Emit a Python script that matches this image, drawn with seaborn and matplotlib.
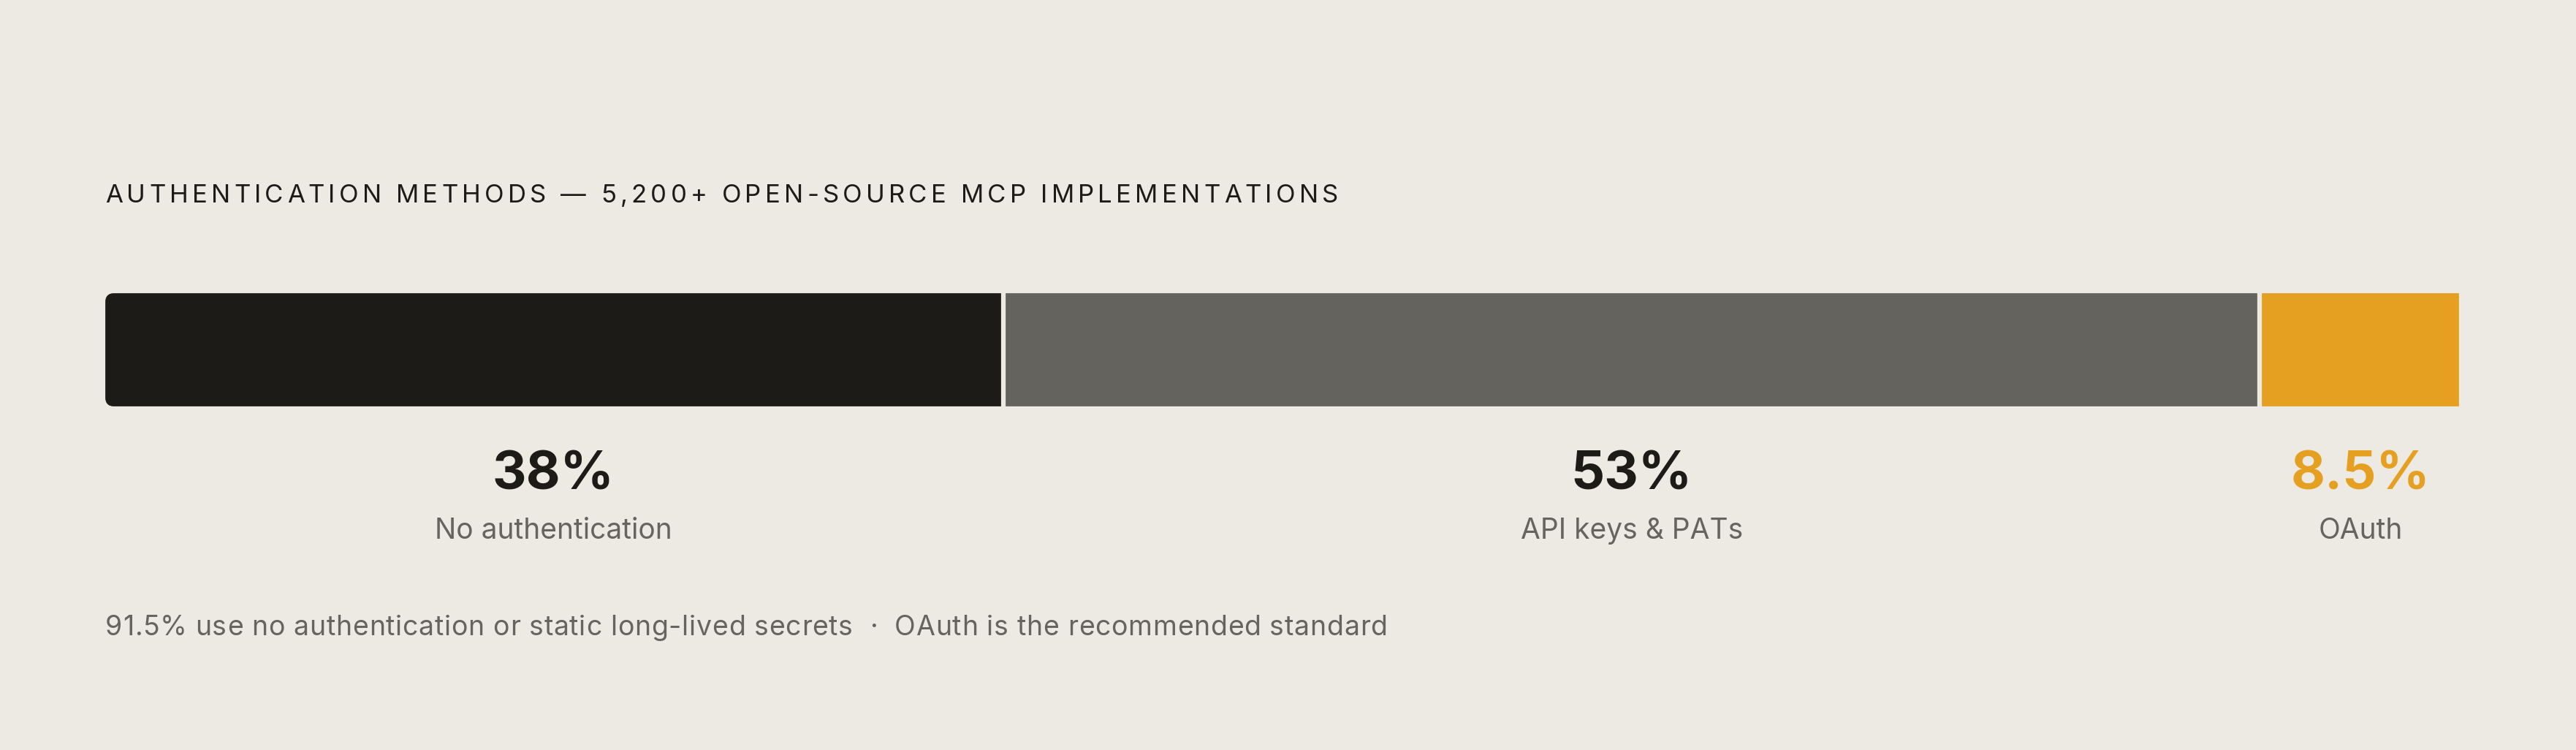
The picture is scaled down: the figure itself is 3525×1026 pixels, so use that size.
import matplotlib
matplotlib.use("Agg")
import matplotlib.pyplot as plt
import matplotlib.transforms as mtransforms
from matplotlib.patches import FancyBboxPatch
import numpy as np
import pandas as pd
import seaborn as sns

# data
categories = ["No authentication", "API keys & PATs", "OAuth"]
shares = [38, 53, 8.5]
pct_labels = ["38%", "53%", "8.5%"]
title_text = "AUTHENTICATION METHODS \u2014 5,200+ OPEN-SOURCE MCP IMPLEMENTATIONS"
note_text = "91.5% use no authentication or static long-lived secrets  \u00b7  OAuth is the recommended standard"

BG = "#edeae3"
INK = "#1c1b18"
MUTED = "#66645f"
seg_colors = ["#1c1b18", "#64635e", "#e6a021"]
pct_colors = [INK, INK, "#e6a021"]

sns.set_theme(style="white")
plt.rcParams["font.family"] = ["Inter", "DejaVu Sans"]

W, H = 3525, 1026
fig = plt.figure(figsize=(W / 100, H / 100), dpi=100, facecolor=BG)
renderer = fig.canvas.get_renderer()

def fx(px):
    return px / W

def fy(px):
    return 1 - px / H

def spaced_text(x, y, s, size, color, tracking):
    # draw text char by char with extra letter spacing (px)
    def width(txt):
        t = fig.text(0, 0, txt, fontsize=size)
        w = t.get_window_extent(renderer=renderer).width
        t.remove()
        return w
    space_w = width("a a") - width("aa")
    for ch in s:
        if ch == " ":
            x += space_w + tracking
            continue
        t = fig.text(fx(x), fy(y), ch, ha="left", va="baseline", fontsize=size, color=color)
        x += t.get_window_extent(renderer=renderer).width + tracking

bar_left, bar_right, bar_top, bar_bot = 144, 3365, 401, 556
pad = 3
ax = fig.add_axes([fx(bar_left - pad), fy(bar_bot + pad),
                   fx(bar_right - bar_left + 2 * pad), (bar_bot - bar_top + 2 * pad) / H])
ax.set_facecolor(BG)

cum = np.cumsum(shares)
df = pd.DataFrame({"row": ["auth"] * len(shares), "end": cum, "segment": categories})

# stacked bar: draw cumulative ends from longest to shortest
for i in reversed(range(len(shares))):
    sns.barplot(data=df.iloc[[i]], x="end", y="row", orient="h", color=seg_colors[i],
                width=1.0, edgecolor=BG, linewidth=4.5, saturation=1, ax=ax)

ax.set_xlim(0, cum[-1])
ax.set_ylim(0.5, -0.5)
ax.axis("off")

# rounded left corners
clip = FancyBboxPatch((bar_left, H - bar_bot), (bar_right - bar_left) + 80, bar_bot - bar_top,
                      boxstyle="round,pad=0,rounding_size=13",
                      transform=mtransforms.IdentityTransform(), facecolor="none", edgecolor="none")
for p in ax.patches:
    p.set_clip_path(clip)

# labels under each segment
trans = mtransforms.blended_transform_factory(ax.transData, fig.transFigure)
centers = cum - np.array(shares) / 2
for c, pct, name, col in zip(centers, pct_labels, categories, pct_colors):
    fig.text(c, fy(670), pct, transform=trans, ha="center", va="baseline",
             fontsize=52, fontweight="bold", color=col)
    fig.text(c, fy(737), name, transform=trans, ha="center", va="baseline",
             fontsize=28, color=MUTED)

spaced_text(bar_left, 277, title_text, 25, INK, 5.2)
spaced_text(bar_left, 869, note_text, 27, MUTED, 0.7)

fig.savefig("out.png", dpi=100, facecolor=BG)
